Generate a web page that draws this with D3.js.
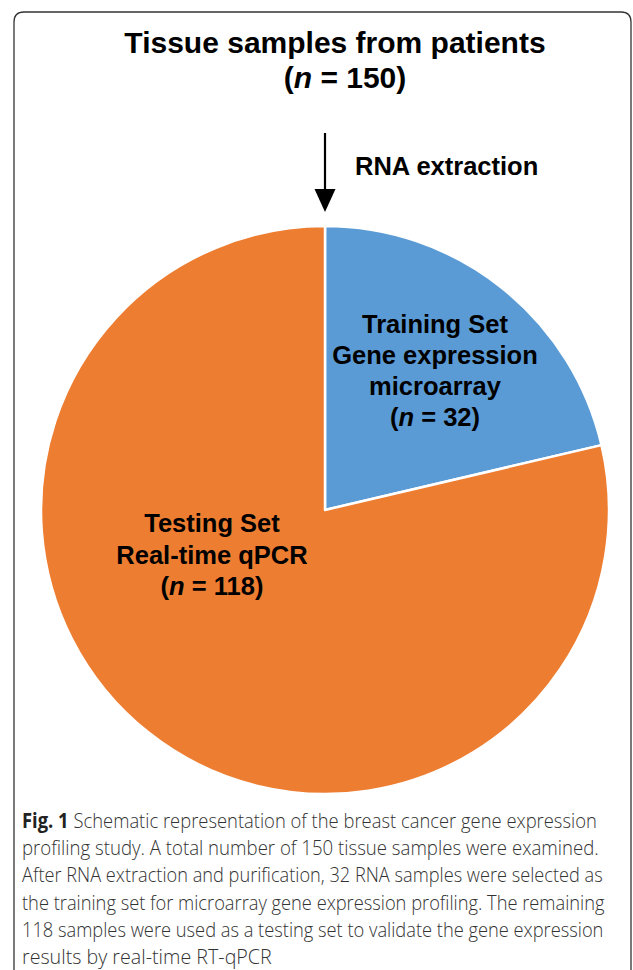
<!DOCTYPE html>
<html>
<head>
<meta charset="utf-8">
<script src="https://cdn.jsdelivr.net/npm/d3@7"></script>
<style>
  html, body { margin: 0; padding: 0; background: #fff; }
  svg { display: block; }
</style>
</head>
<body>
<div id="chart"></div>
<script>
// ---- data ----
const categories = ["Training Set", "Testing Set"];
const values = [32, 118];
const total = 150;
const sliceLabels = [
  ["Training Set", "Gene expression", "microarray", "(n = 32)"],
  ["Testing Set", "Real-time qPCR", "(n = 118)"]
];
const titleLines = ["Tissue samples from patients", "(n = 150)"];
const arrowLabel = "RNA extraction";
const captionLines = [
  "Schematic representation of the breast cancer gene expression",
  "profiling study. A total number of 150 tissue samples were examined.",
  "After RNA extraction and purification, 32 RNA samples were selected as",
  "the training set for microarray gene expression profiling. The remaining",
  "118 samples were used as a testing set to validate the gene expression",
  "results by real-time RT-qPCR"
];
const captionPrefix = "Fig. 1";
const colors = ["#5B9BD5", "#ED7D31"];

// ---- layout ----
const W = 633, H = 970;
const svg = d3.select("#chart").append("svg").attr("width", W).attr("height", H);

// frame (open at bottom, rounded top corners)
const fx0 = 14, fy0 = 12, fx1 = 631, rr = 10;
svg.append("path")
  .attr("d", `M${fx0},${H + 5} L${fx0},${fy0 + rr} Q${fx0},${fy0} ${fx0 + rr},${fy0} L${fx1 - rr},${fy0} Q${fx1},${fy0} ${fx1},${fy0 + rr} L${fx1},${H + 5}`)
  .attr("fill", "none").attr("stroke", "#333").attr("stroke-width", 1.3);

const boldFont = "'Liberation Sans', Arial, sans-serif";

// title
const title = svg.append("text")
  .attr("font-family", boldFont).attr("font-weight", "bold").attr("font-size", 30)
  .attr("fill", "#000").attr("text-anchor", "middle");
title.append("tspan").attr("x", 335).attr("y", 53).text(titleLines[0]);
function nLine(sel, x, y, str) {
  const t = sel.append("tspan").attr("x", x).attr("y", y);
  const m = str.match(/^\((n)( = .*)\)$/);
  t.text("(");
  sel.append("tspan").attr("font-style", "italic").text(m[1]);
  sel.append("tspan").text(m[2] + ")");
}
const t2 = svg.append("text")
  .attr("font-family", boldFont).attr("font-weight", "bold").attr("font-size", 30)
  .attr("fill", "#000").attr("text-anchor", "middle");
nLine(t2, 345, 88, titleLines[1]);

// pie
const cx = 325, cy = 510, R = 284;
const pie = d3.pie().sort(null).value(d => d)(values);
const arc = d3.arc().innerRadius(0).outerRadius(R);
const g = svg.append("g").attr("transform", `translate(${cx},${cy})`);
g.selectAll("path").data(pie).join("path")
  .attr("d", arc)
  .attr("fill", (d, i) => colors[i])
  .attr("stroke", "#fff").attr("stroke-width", 2.5).attr("stroke-linejoin", "round");

// arrow
const arrowTop = 133, arrowBottom = cy - R - 14;
svg.append("line").attr("x1", cx).attr("x2", cx).attr("y1", arrowTop).attr("y2", arrowBottom - 20)
  .attr("stroke", "#000").attr("stroke-width", 2.2);
svg.append("path")
  .attr("d", `M${cx - 10.5},${arrowBottom - 23} L${cx + 10.5},${arrowBottom - 23} L${cx},${arrowBottom} Z`)
  .attr("fill", "#000");
svg.append("text")
  .attr("x", 355).attr("y", 175)
  .attr("font-family", boldFont).attr("font-weight", "bold").attr("font-size", 25.5)
  .attr("fill", "#000").text(arrowLabel);

// slice labels
const labelPos = [[435, 333, 31], [212, 532, 31.5]];
sliceLabels.forEach((lines, i) => {
  const [lx, ly, dy] = labelPos[i];
  lines.forEach((ln, j) => {
    const t = svg.append("text")
      .attr("font-family", boldFont).attr("font-weight", "bold").attr("font-size", 25.5)
      .attr("fill", "#000").attr("text-anchor", "middle");
    if (/^\(n = /.test(ln)) nLine(t, lx, ly + j * dy, ln);
    else t.append("tspan").attr("x", lx).attr("y", ly + j * dy).text(ln);
  });
});

// caption (horizontally scaled to the reference's line widths)
const capFont = "'Open Sans', 'Noto Sans', sans-serif";
const capWidths = [575, 577, 581, 583, 582, 250];
captionLines.forEach((ln, i) => {
  const grp = svg.append("g");
  const t = grp.append("text")
    .attr("x", 0).attr("y", 0)
    .attr("font-family", capFont).attr("font-size", 20.5).attr("fill", "#333");
  if (i === 0) {
    t.append("tspan").attr("font-weight", "bold").attr("fill", "#222").text(captionPrefix + " ");
  }
  t.append("tspan").attr("font-weight", 300).text(ln);
  const natural = t.node().getComputedTextLength() || capWidths[i];
  const sx = capWidths[i] / natural;
  grp.attr("transform", `translate(22,${828 + i * 27.2}) scale(${sx},1)`);
});
</script>
</body>
</html>
